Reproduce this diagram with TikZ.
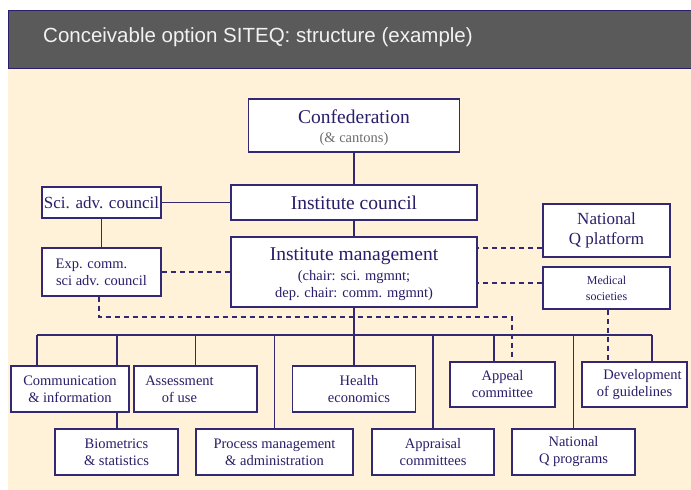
\documentclass[tikz,border=0pt]{standalone}
\usepackage{fontspec}
\setmainfont{Liberation Serif}
\newfontfamily\titlefont{Liberation Sans}
\usetikzlibrary{calc}
\definecolor{navy}{RGB}{40,30,105}
\definecolor{linec}{RGB}{50,40,115}
\definecolor{cream}{RGB}{255,242,217}
\definecolor{band}{RGB}{90,90,90}
\definecolor{subg}{RGB}{110,110,110}
\pgfdeclarelayer{bg}
\pgfdeclarelayer{lines}
\pgfsetlayers{bg,lines,main}
\newcommand{\myfs}[2]{\fontsize{#1}{#2}\selectfont}
\begin{document}
\begin{tikzpicture}[x=1pt,y=-1pt,
  box/.style={draw=linec, line width=1.2pt, fill=white, inner sep=0pt, text=navy, align=center},
  wh/.style 2 args={minimum width=#1pt, minimum height=#2pt},
  conn/.style={draw=linec, line width=1.2pt},
  dsh/.style={conn, dash pattern=on 5pt off 4pt}]
\useasboundingbox (0,0) rectangle (691,490);
\begin{pgfonlayer}{bg}
  \fill[white] (0,0) rectangle (691,490);
  \fill[cream] (8,68) rectangle (691,490);
  \filldraw[fill=band, draw=navy, line width=0.9pt] (8,10) rectangle (692,68);
\end{pgfonlayer}
\node[anchor=base west, text=white!95!black, font=\titlefont\myfs{20.5}{24}, inner sep=0pt] (title) at (43,42) {Conceivable option SITEQ: structure (example)};

\node[box, wh={211}{53}, font=\myfs{19.5}{21}] (conf) at (354,125.5) {\rule{0pt}{19pt}Confederation\\[-2pt]{\color{subg}\myfs{14.5}{17}(\& cantons)}};
\node[box, wh={246}{35}, font=\myfs{19.5}{21}] (council) at (354,202.5) {Institute council};
\node[box, wh={119}{31}, font=\myfs{17}{20}] (sci) at (101.5,202.5) {Sci. adv. council};
\node[box, wh={119}{48}, font=\myfs{14.5}{17}] (exp) at (101.5,272) {Exp. comm.\hspace*{20pt}\\sci adv. council};
\node[box, wh={246}{70}, font=\myfs{19.5}{21}] (mgmt) at (354,272) {\rule{0pt}{17pt}Institute management\\[-1pt]{\myfs{14.5}{17}(chair: sci. mgmnt;}\\[-4pt]{\myfs{14.5}{17}dep. chair: comm. mgmnt)}};
\node[box, wh={127}{53}, font=\myfs{17}{20}] (nqp) at (606.5,230.5) {National\\Q platform};
\node[box, wh={127}{42}, font=\myfs{12}{16}] (med) at (606.5,288) {Medical\\societies};

\node[box, wh={118}{46}, font=\myfs{14.5}{17}] (comm) at (70,389) {Communication\\\& information};
\node[box, wh={123}{46}, font=\myfs{14.5}{17}] (assess) at (195.5,389) {Assessment\hspace*{32pt}\\of use\hspace*{32pt}};
\node[box, wh={123}{46}, font=\myfs{14.5}{17}] (health) at (354,389) {\hspace*{10pt}Health\\\hspace*{10pt}economics};
\node[box, wh={105}{45}, font=\myfs{14.5}{17}] (appeal) at (502.5,384.5) {Appeal\\committee};
\node[box, wh={105}{45}, font=\myfs{14.5}{17}] (devel) at (634.5,384.5) {\hspace*{16pt}Development\\of guidelines};
\node[box, wh={123}{46}, font=\myfs{14.5}{17}] (bio) at (116.5,452) {Biometrics\\\& statistics};
\node[box, wh={157}{46}, font=\myfs{14.5}{17}] (proc) at (274.5,452) {Process management\\\& administration};
\node[box, wh={122}{46}, font=\myfs{14.5}{17}] (appr) at (433,452) {Appraisal\\committees};
\node[box, wh={123}{46}, font=\myfs{14.5}{17}] (nqprog) at (573.5,452) {National\\Q programs};

\begin{pgfonlayer}{lines}
  \draw[conn] (conf.south) -- (council.north);
  \draw[conn] (council.south) -- (mgmt.north);
  \draw[conn] (mgmt.south) -- (health.north);
  \draw[conn] (sci.east) -- (council.west);
  \draw[conn] (sci.south) -- (exp.north);
  \coordinate (busL) at (37,335);
  \coordinate (busR) at (652,335);
  \draw[conn] (busL) -- (busR);
  \draw[conn] (busL) -- (busL |- comm.north);
  \coordinate (b2) at (117,335);
  \draw[conn] (b2) -- (b2 |- bio.north);
  \draw[conn] (assess.north) -- (assess.north |- busL);
  \draw[conn] (proc.north) -- (proc.north |- busL);
  \draw[conn] (appr.north) -- (appr.north |- busL);
  \coordinate (b7) at (494,335);
  \draw[conn] (b7) -- (b7 |- appeal.north);
  \draw[conn] (nqprog.north) -- (nqprog.north |- busL);
  \draw[conn] (busR) -- (busR |- devel.north);
  % dashed links
  \draw[dsh] (exp.east) -- (exp.east -| mgmt.west);
  \coordinate (q1) at ($(nqp.west)+(0,17.5)$);
  \draw[dsh] (q1) -- (q1 -| mgmt.east);
  \coordinate (m1) at ($(med.west)+(0,-5)$);
  \draw[dsh] (m1) -- (m1 -| mgmt.east);
  \coordinate (d0) at ($(exp.south)+(-2.5,0)$);
  \coordinate (d1) at (512,317);
  \draw[dsh] (d0) |- (d1) -- (d1 |- appeal.north);
  \coordinate (d2) at ($(med.south)+(1.5,0)$);
  \draw[dsh] (d2) -- (d2 |- devel.north);
\end{pgfonlayer}
\end{tikzpicture}
\end{document}
